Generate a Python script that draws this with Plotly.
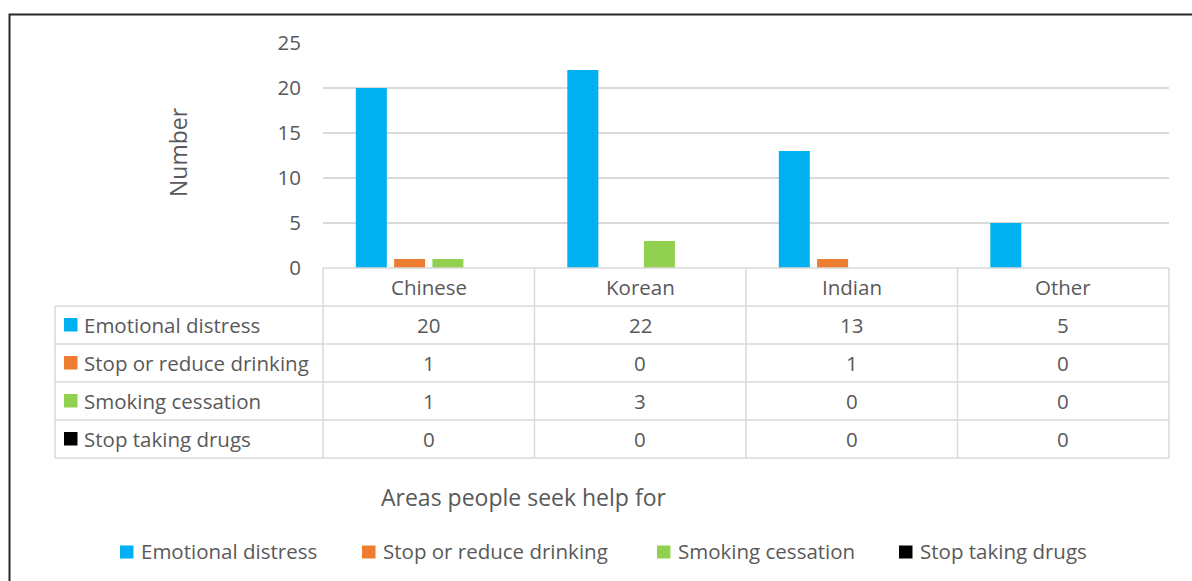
import plotly.graph_objects as go

# ---- data ----
categories = ["Chinese", "Korean", "Indian", "Other"]
series_names = ["Emotional distress", "Stop or reduce drinking", "Smoking cessation", "Stop taking drugs"]
emotional_distress = [20, 22, 13, 5]
stop_reduce_drinking = [1, 0, 1, 0]
smoking_cessation = [1, 3, 0, 0]
stop_taking_drugs = [0, 0, 0, 0]
y_ticks = [0, 5, 10, 15, 20, 25]
y_title = "Number"
x_title = "Areas people seek help for"

series_values = [emotional_distress, stop_reduce_drinking, smoking_cessation, stop_taking_drugs]
colors = ["#00B0F0", "#ED7D31", "#92D050", "#000000"]

W, H = 1192, 581
FONT = "Open Sans"
FS = 20.5
TXT = "#595959"
GRID = "#D9D9D9"


def px(x):
    return x / W


def py(y):
    return 1 - y / H


fig = go.Figure()
for name, vals, col in zip(series_names, series_values, colors):
    fig.add_trace(go.Bar(x=categories, y=vals, name=name, marker_color=col,
                         marker_line_width=0, showlegend=False))

plot_l, plot_r, plot_t, plot_b = 323, 1169, 43, 268
table_l = 55
row_h = 38
n_rows = len(series_names)

shapes = []
annotations = []

# outer chart border (extends beyond the window on right and bottom)
shapes.append(dict(type="rect", xref="paper", yref="paper",
                   x0=px(9.5), x1=px(W + 20), y0=py(14.5), y1=py(H + 20),
                   line=dict(color="#262626", width=2), fillcolor="rgba(0,0,0,0)"))

# data table
col_w = (plot_r - plot_l) / len(categories)
hdr_top = plot_b
hdr_bot = plot_b + row_h
tbl_bot = hdr_bot + row_h * n_rows


def hline(y, x0, x1):
    shapes.append(dict(type="line", xref="paper", yref="paper", x0=px(x0), x1=px(x1),
                       y0=py(y), y1=py(y), line=dict(color=GRID, width=1.5)))


def vline(x, y0, y1):
    shapes.append(dict(type="line", xref="paper", yref="paper", x0=px(x), x1=px(x),
                       y0=py(y0), y1=py(y1), line=dict(color=GRID, width=1.5)))


hline(hdr_top, plot_l, plot_r)
for r in range(n_rows + 1):
    hline(hdr_bot + r * row_h, table_l, plot_r)
vline(table_l, hdr_bot, tbl_bot)
for c in range(len(categories) + 1):
    vline(plot_l + c * col_w, hdr_top, tbl_bot)

for c, cat in enumerate(categories):
    cx = plot_l + (c + 0.5) * col_w
    annotations.append(dict(xref="paper", yref="paper", x=px(cx), y=py(hdr_top + row_h / 2),
                            text=cat, showarrow=False, xanchor="center", yanchor="middle",
                            font=dict(family=FONT, size=FS, color=TXT)))
    for r, vals in enumerate(series_values):
        cy = hdr_bot + (r + 0.5) * row_h
        annotations.append(dict(xref="paper", yref="paper", x=px(cx), y=py(cy),
                                text=str(vals[c]), showarrow=False, xanchor="center",
                                yanchor="middle", font=dict(family=FONT, size=FS, color=TXT)))

for r, (name, col) in enumerate(zip(series_names, colors)):
    cy = hdr_bot + (r + 0.5) * row_h
    shapes.append(dict(type="rect", xref="paper", yref="paper", x0=px(64), x1=px(77.5),
                       y0=py(cy - 7), y1=py(cy + 6.5), line=dict(width=0), fillcolor=col))
    annotations.append(dict(xref="paper", yref="paper", x=px(81.5), y=py(cy), text=name,
                            showarrow=False, xanchor="left", yanchor="middle",
                            font=dict(family=FONT, size=FS, color=TXT)))

# axis titles
annotations.append(dict(xref="paper", yref="paper", x=px(178), y=py(152), text=y_title,
                        textangle=-90, showarrow=False, xanchor="center", yanchor="middle",
                        font=dict(family=FONT, size=23, color=TXT)))
annotations.append(dict(xref="paper", yref="paper", x=px(523), y=py(497), text=x_title,
                        showarrow=False, xanchor="center", yanchor="middle",
                        font=dict(family=FONT, size=23, color=TXT)))

# legend (manual)
legend_x = [120, 362, 657, 899]
leg_y = 552
for lx, name, col in zip(legend_x, series_names, colors):
    shapes.append(dict(type="rect", xref="paper", yref="paper", x0=px(lx), x1=px(lx + 13.5),
                       y0=py(leg_y - 6.5), y1=py(leg_y + 6.5), line=dict(width=0), fillcolor=col))
    annotations.append(dict(xref="paper", yref="paper", x=px(lx + 18.5), y=py(leg_y - 1), text=name,
                            showarrow=False, xanchor="left", yanchor="middle",
                            font=dict(family=FONT, size=FS, color=TXT)))

fig.update_layout(
    width=W, height=H,
    margin=dict(l=0, r=0, t=0, b=0, pad=0, autoexpand=False),
    paper_bgcolor="white", plot_bgcolor="white",
    barmode="group", bargap=0.276, bargroupgap=0.19,
    shapes=shapes, annotations=annotations,
    xaxis=dict(domain=[px(plot_l), px(plot_r)], showticklabels=False, showgrid=False,
               zeroline=False, showline=False, ticks="", fixedrange=True, automargin=False),
    yaxis=dict(domain=[py(plot_b), py(plot_t)], range=[0, 25], tickvals=y_ticks,
               showgrid=True, gridcolor=GRID, gridwidth=1.5, zeroline=False, showline=False,
               ticks="", ticklabelstandoff=21, automargin=False,
               tickfont=dict(family=FONT, size=FS, color=TXT)),
    font=dict(family=FONT),
)

fig.write_html("out.html")
